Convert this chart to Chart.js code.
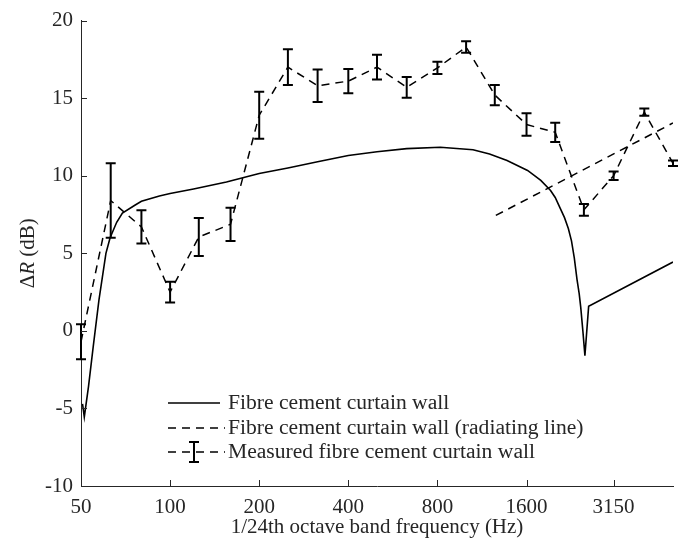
<!DOCTYPE html>
<html>
<head>
<meta charset="utf-8">
<script src="https://cdn.jsdelivr.net/npm/chart.js@4.4.1/dist/chart.umd.min.js"></script>
<style>
    body { margin: 0; background: #fff; }
    canvas { display: block; }
</style>
</head>
<body>
<canvas id="chart" width="682" height="545"></canvas>
<script>
// x ticks (Hz) and y range
const xTicks = [50, 100, 200, 400, 800, 1600, 3150];
const yTicks = [-10, -5, 0, 5, 10, 15, 20];

// model curve
const modelFreq = [50.6, 51.3, 53, 55, 57.5, 60.7, 62.7, 66, 69, 76, 80, 92, 100, 120, 155, 200, 250, 315, 400, 500, 630, 818, 1055, 1200, 1375, 1613, 1788, 1929, 2000, 2080, 2150, 2215, 2270, 2320, 2370, 2410, 2440, 2480, 2520, 2594, 5000];
const modelDb = [-4.7, -5.55, -3.6, -1.0, 2.0, 5.0, 6.0, 7.0, 7.6, 8.1, 8.35, 8.7, 8.85, 9.15, 9.6, 10.15, 10.5, 10.9, 11.3, 11.55, 11.75, 11.84, 11.67, 11.4, 10.98, 10.34, 9.7, 9.05, 8.6, 7.9, 7.3, 6.6, 5.8, 4.7, 3.3, 2.4, 1.5, 0.0, -1.6, 1.58, 4.44];

// radiating line
const radFreq = [1260, 5000];
const radDb = [7.44, 13.4];

// measured (1/3 octave bands) with error
const measFreq = [50, 63, 80, 100, 125, 160, 200, 250, 315, 400, 500, 630, 800, 1000, 1250, 1600, 2000, 2500, 3150, 4000, 5000];
const measDb = [-0.7, 8.4, 6.7, 2.5, 6.05, 6.87, 13.9, 17.0, 15.8, 16.1, 17.0, 15.7, 16.95, 18.3, 15.2, 13.3, 12.8, 7.8, 10.0, 14.1, 10.8];
const measErr = [1.13, 2.4, 1.07, 0.67, 1.22, 1.07, 1.52, 1.15, 1.05, 0.78, 0.8, 0.67, 0.4, 0.37, 0.65, 0.72, 0.62, 0.38, 0.27, 0.24, 0.18];

const legendLabels = [
    'Fibre cement curtain wall',
    'Fibre cement curtain wall (radiating line)',
    'Measured fibre cement curtain wall'
];

const FONT = 'Liberation Serif';
const TEXT = '#262626';
const DASH = [8, 6];

const toPoints = (xs, ys) => xs.map((x, i) => ({ x: x, y: ys[i] }));

// ticks drawn inside the axes
const innerTicks = {
    id: 'innerTicks',
    afterDraw(chart) {
        const { ctx, chartArea, scales } = chart;
        ctx.save();
        ctx.strokeStyle = TEXT;
        ctx.lineWidth = 1;
        ctx.beginPath();
        xTicks.forEach(v => {
            const px = Math.round(scales.x.getPixelForValue(v)) + 0.5;
            ctx.moveTo(px, chartArea.bottom);
            ctx.lineTo(px, chartArea.bottom - 6);
        });
        yTicks.forEach(v => {
            const py = Math.round(scales.y.getPixelForValue(v)) + 0.5;
            ctx.moveTo(chartArea.left, py);
            ctx.lineTo(chartArea.left + 6, py);
        });
        ctx.stroke();
        ctx.restore();
    }
};

// vertical error bars for the measured series
const errorBars = {
    id: 'errorBars',
    afterDatasetsDraw(chart) {
        const { ctx, scales } = chart;
        ctx.save();
        ctx.strokeStyle = '#000';
        ctx.lineWidth = 2;
        measFreq.forEach((f, i) => {
            const px = scales.x.getPixelForValue(f);
            const top = scales.y.getPixelForValue(measDb[i] + measErr[i]);
            const bot = scales.y.getPixelForValue(measDb[i] - measErr[i]);
            ctx.beginPath();
            ctx.moveTo(px, top);
            ctx.lineTo(px, bot);
            ctx.moveTo(px - 5, top);
            ctx.lineTo(px + 5, top);
            ctx.moveTo(px - 5, bot);
            ctx.lineTo(px + 5, bot);
            ctx.stroke();
        });
        ctx.restore();
    }
};

// y title with italic R, and the legend box inside the plot
const extras = {
    id: 'extras',
    afterDraw(chart) {
        const { ctx, chartArea } = chart;
        ctx.save();

        // y title
        const parts = [['Δ', ''], ['R', 'italic '], [' (dB)', '']];
        ctx.fillStyle = TEXT;
        ctx.textBaseline = 'middle';
        ctx.textAlign = 'left';
        let total = 0;
        const widths = parts.map(p => {
            ctx.font = p[1] + '21px "' + FONT + '"';
            const w = ctx.measureText(p[0]).width;
            total += w;
            return w;
        });
        ctx.translate(28, (chartArea.top + chartArea.bottom) / 2);
        ctx.rotate(-Math.PI / 2);
        let cx = -total / 2;
        parts.forEach((p, i) => {
            ctx.font = p[1] + '21px "' + FONT + '"';
            ctx.fillText(p[0], cx, 0);
            cx += widths[i];
        });
        ctx.setTransform(1, 0, 0, 1, 0, 0);

        // legend
        const x0 = 168, x1 = 220, tx = 228;
        const rows = [403, 428, 452];
        ctx.strokeStyle = '#000';
        ctx.lineWidth = 1.5;

        ctx.beginPath();
        ctx.moveTo(x0, rows[0]);
        ctx.lineTo(x1, rows[0]);
        ctx.stroke();

        ctx.setLineDash(DASH);
        ctx.beginPath();
        ctx.moveTo(x0, rows[1]);
        ctx.lineTo(x1 + 5, rows[1]);
        ctx.stroke();
        ctx.beginPath();
        ctx.moveTo(x0, rows[2]);
        ctx.lineTo(x1 + 5, rows[2]);
        ctx.stroke();
        ctx.setLineDash([]);

        const mx = (x0 + x1) / 2;
        ctx.lineWidth = 2;
        ctx.beginPath();
        ctx.moveTo(mx, rows[2] - 10);
        ctx.lineTo(mx, rows[2] + 10);
        ctx.moveTo(mx - 5, rows[2] - 10);
        ctx.lineTo(mx + 5, rows[2] - 10);
        ctx.moveTo(mx - 5, rows[2] + 10);
        ctx.lineTo(mx + 5, rows[2] + 10);
        ctx.stroke();

        ctx.font = '21.6px "' + FONT + '"';
        ctx.fillStyle = TEXT;
        ctx.textBaseline = 'middle';
        legendLabels.forEach((t, i) => ctx.fillText(t, tx, rows[i]));

        ctx.restore();
    }
};

const tickFont = { family: FONT, size: 21 };

new Chart(document.getElementById('chart').getContext('2d'), {
    type: 'line',
    data: {
        datasets: [
            {
                label: legendLabels[0],
                data: toPoints(modelFreq, modelDb),
                borderColor: '#000',
                borderWidth: 1.6,
                pointRadius: 0,
                tension: 0
            },
            {
                label: legendLabels[1],
                data: toPoints(radFreq, radDb),
                borderColor: '#000',
                borderWidth: 1.5,
                borderDash: DASH,
                pointRadius: 0,
                tension: 0
            },
            {
                label: legendLabels[2],
                data: toPoints(measFreq, measDb),
                borderColor: '#000',
                borderWidth: 1.5,
                borderDash: DASH,
                pointRadius: 0,
                tension: 0
            }
        ]
    },
    options: {
        responsive: false,
        animation: false,
        layout: { padding: { top: 20, right: 9, left: 0, bottom: 0 } },
        plugins: {
            legend: { display: false },
            tooltip: { enabled: false }
        },
        scales: {
            x: {
                type: 'logarithmic',
                min: 50,
                max: 5000,
                afterBuildTicks: s => { s.ticks = xTicks.map(v => ({ value: v })); },
                afterFit: s => { s.height = 59; },
                ticks: {
                    callback: v => String(v),
                    font: tickFont,
                    color: TEXT,
                    padding: 9,
                    autoSkip: false,
                    maxRotation: 0
                },
                grid: { display: false, drawTicks: false },
                border: { display: true, color: TEXT, width: 1 },
                title: {
                    display: true,
                    text: '1/24th octave band frequency (Hz)',
                    font: tickFont,
                    color: TEXT,
                    padding: { top: 0, bottom: 5 }
                }
            },
            y: {
                type: 'linear',
                min: -10,
                max: 20,
                afterBuildTicks: s => { s.ticks = yTicks.map(v => ({ value: v })); },
                afterFit: s => { s.width = 81; },
                ticks: {
                    font: tickFont,
                    color: TEXT,
                    padding: 8
                },
                grid: { display: false, drawTicks: false },
                border: { display: true, color: TEXT, width: 1 }
            }
        }
    },
    plugins: [innerTicks, errorBars, extras]
});
</script>
</body>
</html>
